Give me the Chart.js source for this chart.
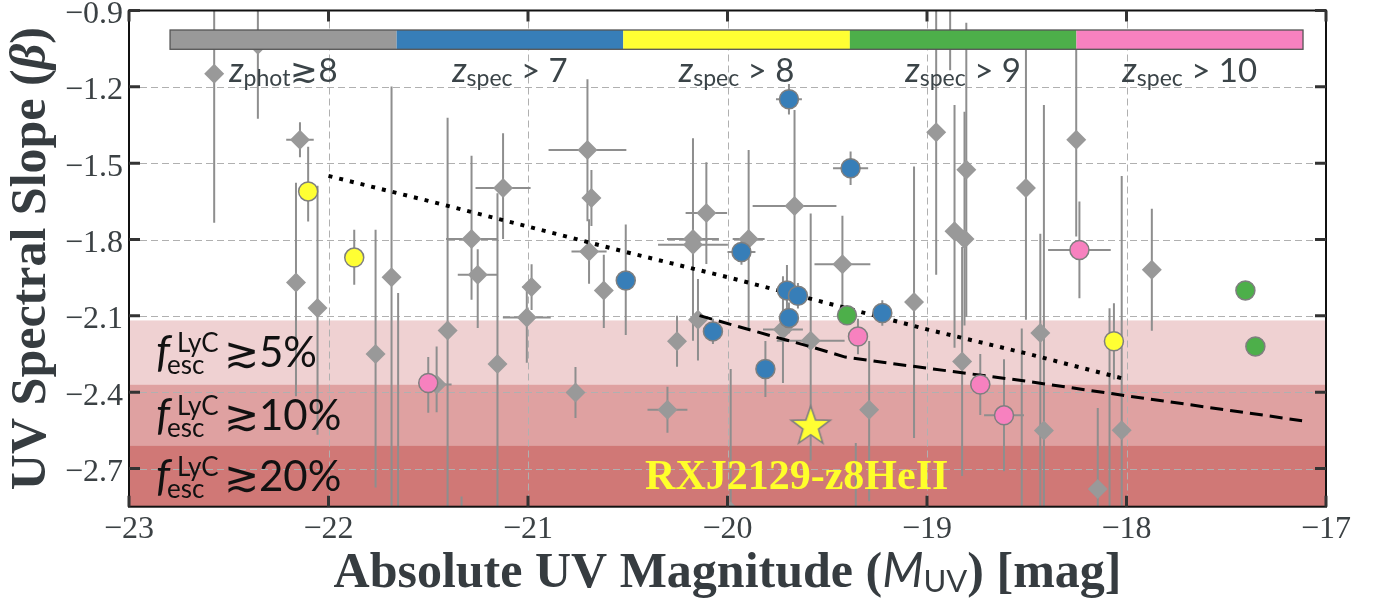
<!DOCTYPE html>
<html><head><meta charset="utf-8">
<script src="https://cdn.jsdelivr.net/npm/chart.js@4.4.0/dist/chart.umd.min.js"></script>
<style>html,body{margin:0;padding:0;background:#fff;}#wrap{width:1377px;height:605px;position:relative;}</style>
</head><body><div id="wrap"><canvas id="c"></canvas></div>
<script>
// ---------------- data ----------------
const xTicks = [-23, -22, -21, -20, -19, -18, -17];
const yTicks = [-0.9, -1.2, -1.5, -1.8, -2.1, -2.4, -2.7];
const xRange = [-23, -17];
const yRange = [-2.85, -0.9];

// photometric candidates (grey diamonds)
const photX = [-22.573,-22.354,-22.143,-22.163,-22.055,-21.764,-21.684,-21.651,-21.403,-21.283,-21.252,-21.125,-21.153,-21.333,-21.458,-21.006,-20.982,-20.702,-20.682,-20.694,-20.62,-20.762,-20.301,-20.253,-20.148,-20.173,-20.173,-20.106,-19.984,-19.894,-19.664,-19.722,-19.583,-19.424,-19.29,-19.357,-19.065,-18.954,-18.884,-18.862,-18.812,-18.803,-18.824,-18.504,-18.432,-18.414,-18.252,-18.144,-18.085,-18.024,-18.525,-17.873];
const photY = [-1.149,-1.035,-1.408,-1.969,-2.069,-2.250,-1.948,-3.05,-2.158,-1.798,-1.938,-1.598,-2.289,-3.05,-2.37,-2.106,-1.987,-1.448,-1.637,-1.847,-2.0,-2.401,-2.469,-2.2,-2.115,-1.798,-1.821,-1.696,-2.869,-1.798,-1.668,-2.154,-2.198,-1.897,-2.469,-3.0,-2.046,-1.378,-0.75,-1.768,-1.798,-1.526,-2.279,-1.598,-2.167,-2.551,-1.408,-2.78,-3.1,-2.55,-2.95,-1.919];
const photXerr = [0,0,0.069,0,0,0,0,0,0,0.128,0.1,0.138,0,0,0.075,0.12,0.045,0.195,0,0.088,0,0,0.1,0,0,0.13,0.175,0.104,0,0.08,0.21,0.1,0.17,0.14,0,0,0,0,0,0,0,0,0,0,0,0,0,0,0,0,0,0];
const photYlo = [0.585,0.29,0.069,0.447,0.498,0.525,0.95,1.04,0.84,0.239,0.21,0.2,0.67,0.24,0.109,0.178,0.09,0.28,0.11,0.127,0.148,0.1,0.09,0.1,0.16,0.4,0.1,0.2,0.56,0.35,0.317,0.21,0.47,0.19,0.36,0.4,0.534,0.56,0.385,0.457,0.34,0.578,0.45,0.517,0.7,1.28,0.38,0.318,1.03,1.0,0.8,0.24];
const photYhi = [0.585,0.29,0.069,0.392,0.48,0.488,0.749,1.04,0.837,0.327,0.1,0.216,0.671,0.24,0.15,0.136,0.09,0.278,0.11,0.127,0.14,0.1,0.09,0.1,0.16,0.396,0.1,0.2,0.56,0.35,0.377,0.21,0.5,0.19,0.27,0.4,0.533,0.56,0.385,0.497,0.5,0.578,0.45,0.543,0.39,1.28,0.353,0.318,1.03,1.0,0.8,0.24];

// z_spec > 7 (blue)
const s7X = [-20.51,-19.93,-19.692,-19.383,-19.702,-19.647,-19.692,-19.81,-19.224,-20.073];
const s7Y = [-1.961,-1.849,-1.249,-1.52,-2.0,-2.021,-2.108,-2.309,-2.089,-2.161];
const s7Xerr = [0,0.07,0.065,0.088,0,0,0,0,0,0];
const s7Ylo = [0.214,0.05,0.06,0.066,0.1,0.05,0.06,0.11,0.05,0.05];
const s7Yhi = [0.22,0.05,0.06,0.066,0.1,0.05,0.06,0.11,0.05,0.05];

// z_spec > 8 (yellow)
const s8X = [-22.102,-21.871,-18.063];
const s8Y = [-1.611,-1.871,-2.2];
const s8Xerr = [0,0,0];
const s8Ylo = [0.118,0.107,0.15];
const s8Yhi = [0.176,0.109,0.15];

// z_spec > 9 (green)
const s9X = [-19.401,-17.404,-17.354];
const s9Y = [-2.098,-2.0,-2.22];
const s9Xerr = [0,0,0];
const s9Ylo = [0.03,0,0];
const s9Yhi = [0.03,0,0];

// z_spec > 10 (pink)
const s10X = [-21.5,-19.346,-18.236,-18.733,-18.614];
const s10Y = [-2.364,-2.181,-1.841,-2.37,-2.491];
const s10Xerr = [0.03,0,0.157,0.05,0.1];
const s10Ylo = [0.117,0.07,0.19,0.12,0.22];
const s10Yhi = [0.102,0.07,0.19,0.12,0.22];

// RXJ2129-z8HeII
const starX = [-19.583];
const starY = [-2.535];
const starName = 'RXJ2129-z8HeII';

// model relations
const dottedX = [-22,-21.5,-21,-20.5,-20,-19.5,-19,-18.5,-18];
const dottedY = [-1.55,-1.648,-1.749,-1.851,-1.948,-2.05,-2.153,-2.248,-2.35];
const dashedX = [-20.14,-19.77,-19.58,-19.41,-19.15,-18.5,-18.0,-17.12];
const dashedY = [-2.099,-2.181,-2.222,-2.262,-2.29,-2.357,-2.414,-2.512];

// f_esc bands
const bandTop = [-2.118, -2.370, -2.609];
const bandBottom = [-2.370, -2.609, -2.85];
const bandPct = ['5%', '10%', '20%'];

// colour bar
const cbSub = ['phot','spec','spec','spec','spec'];
const cbRel = ['\u22738',' > 7',' > 8',' > 9',' > 10'];

// ---------------- styles ----------------
const C_GREY='#999999', C_BLUE='#377eb8', C_YEL='#ffff33', C_GRN='#4daf4a', C_PINK='#f781bf';
const cbColors=[C_GREY,C_BLUE,C_YEL,C_GRN,C_PINK];
const bandColors=['#efd1d2','#dfa1a1','#d07876'];
const SERIF='"Liberation Serif","Times New Roman",serif';
const SANS='Lato,"Open Sans",sans-serif';

function pts(xs,ys,xe,lo,hi){return xs.map((x,i)=>({x:x,y:ys[i],xerr:xe?xe[i]:0,ylo:lo?lo[i]:0,yhi:hi?hi[i]:0}));}
function line(xs,ys){return xs.map((x,i)=>({x:x,y:ys[i]}));}

function starCanvas(R){
  const s=Math.ceil(2*R+6);const c=document.createElement('canvas');c.width=s;c.height=s;
  const g=c.getContext('2d');const cx=s/2,cy=s/2;g.beginPath();
  for(let k=0;k<10;k++){const r=(k%2)?R*0.40:R;const a=-Math.PI/2+k*Math.PI/5;g.lineTo(cx+r*Math.cos(a),cy+r*Math.sin(a));}
  g.closePath();g.fillStyle=C_YEL;g.fill();g.lineWidth=1.6;g.strokeStyle='#808080';g.stroke();return c;
}

const errSets=[0,1,2,3,4];

function rich(ctx,segs,x,y,align){
  let w=0;segs.forEach(s=>{ctx.font=s.f;s.w=ctx.measureText(s.t).width;w+=s.w;});
  let cx=align==='center'?x-w/2:x;
  segs.forEach(s=>{ctx.font=s.f;ctx.fillText(s.t,cx,y+(s.dy||0));cx+=s.w;});
}

const decor={
  id:'decor',
  beforeDatasetsDraw(chart){
    const {ctx,chartArea:a,scales:{x,y}}=chart;
    ctx.save();
    for(let i=0;i<bandTop.length;i++){
      const y0=y.getPixelForValue(bandTop[i]),y1=y.getPixelForValue(bandBottom[i]);
      ctx.fillStyle=bandColors[i];ctx.fillRect(a.left,y0,a.right-a.left,y1-y0);
    }
    ctx.strokeStyle='#b0b0b0';ctx.lineWidth=1;ctx.setLineDash([7,4]);
    xTicks.forEach(v=>{if(v<=xRange[0]||v>=xRange[1])return;const p=Math.round(x.getPixelForValue(v))+0.5;ctx.beginPath();ctx.moveTo(p,a.top);ctx.lineTo(p,a.bottom);ctx.stroke();});
    yTicks.forEach(v=>{if(v<=yRange[0]||v>=yRange[1])return;const p=Math.round(y.getPixelForValue(v))+0.5;ctx.beginPath();ctx.moveTo(a.left,p);ctx.lineTo(a.right,p);ctx.stroke();});
    ctx.setLineDash([]);
    ctx.beginPath();ctx.rect(a.left,a.top,a.right-a.left,a.bottom-a.top);ctx.clip();
    ctx.strokeStyle='#8e8e8e';ctx.lineWidth=2;
    errSets.forEach(di=>{
      chart.data.datasets[di].data.forEach(p=>{
        const px=x.getPixelForValue(p.x),py=y.getPixelForValue(p.y);
        if(p.ylo||p.yhi){ctx.beginPath();ctx.moveTo(px,y.getPixelForValue(p.y+p.yhi));ctx.lineTo(px,y.getPixelForValue(p.y-p.ylo));ctx.stroke();}
        if(p.xerr){ctx.beginPath();ctx.moveTo(x.getPixelForValue(p.x-p.xerr),py);ctx.lineTo(x.getPixelForValue(p.x+p.xerr),py);ctx.stroke();}
      });
    });
    ctx.restore();
  },
  afterDatasetsDraw(chart){
    const {ctx,chartArea:a,scales:{x,y}}=chart;
    const W=a.right-a.left;
    ctx.save();
    const cl=a.left+0.0343*W,cr=a.left+0.9808*W,ct=a.top+19.5,cb=a.top+38.8;
    const sw=(cr-cl)/cbColors.length;
    cbColors.forEach((c,i)=>{ctx.fillStyle=c;ctx.fillRect(cl+i*sw,ct,sw,cb-ct);});
    ctx.strokeStyle='#555';ctx.lineWidth=1.3;ctx.strokeRect(cl,ct,cr-cl,cb-ct);
    ctx.fillStyle='#3b4448';ctx.textAlign='left';ctx.textBaseline='alphabetic';
    cbSub.forEach((s,i)=>{
      rich(ctx,[{t:'z',f:'italic 34px '+SANS},{t:s,f:'23px '+SANS,dy:4},{t:cbRel[i],f:'33px '+SANS}],cl+(i+0.5)*sw,a.top+71,'center');
    });
    ctx.fillStyle='#111';
    bandTop.forEach((t,i)=>{
      const base=(y.getPixelForValue(t)+y.getPixelForValue(bandBottom[i]))/2+15;
      const x0=a.left+27;
      ctx.font='italic 44px '+SANS;ctx.fillText('f',x0,base);
      ctx.font='26px '+SANS;ctx.fillText('LyC',x0+21,base-15);ctx.fillText('esc',x0+11,base+7);
      ctx.font='42px '+SANS;ctx.fillText('\u2273'+bandPct[i],x0+68,base);
    });
    ctx.fillStyle='#ffff2a';ctx.font='bold 42px '+SERIF;ctx.textAlign='center';
    ctx.fillText(starName,x.getPixelForValue(starX[0])-14,a.bottom-18);
    ctx.restore();
  },
  afterDraw(chart){
    const {ctx,chartArea:a,scales:{x,y}}=chart;
    ctx.save();
    ctx.strokeStyle='#111';ctx.lineWidth=2;ctx.strokeRect(a.left,a.top,a.right-a.left,a.bottom-a.top);
    ctx.strokeStyle='#333';ctx.lineWidth=3;
    xTicks.forEach(v=>{const p=x.getPixelForValue(v);ctx.beginPath();ctx.moveTo(p,a.bottom);ctx.lineTo(p,a.bottom-11);ctx.moveTo(p,a.top);ctx.lineTo(p,a.top+11);ctx.stroke();});
    yTicks.forEach(v=>{const p=y.getPixelForValue(v);ctx.beginPath();ctx.moveTo(a.left,p);ctx.lineTo(a.left+11,p);ctx.moveTo(a.right,p);ctx.lineTo(a.right-11,p);ctx.stroke();});
    ctx.fillStyle='#3b4144';ctx.font='32px '+SERIF;ctx.textBaseline='alphabetic';
    ctx.textAlign='right';
    yTicks.forEach(v=>{ctx.fillText(v.toFixed(1).replace('-','\u2212'),a.left-6,y.getPixelForValue(v)+12.5);});
    ctx.textAlign='center';
    xTicks.forEach(v=>{ctx.fillText(String(v).replace('-','\u2212'),x.getPixelForValue(v),a.bottom+31);});
    ctx.fillStyle='#363c40';ctx.textAlign='left';
    rich(ctx,[{t:'Absolute UV Magnitude (',f:'bold 50px '+SERIF},{t:'M',f:'italic 48px '+SANS},{t:'UV',f:'31px '+SANS,dy:5},{t:') [mag]',f:'bold 50px '+SERIF}],(a.left+a.right)/2,587,'center');
    ctx.translate(45,(a.top+a.bottom)/2);ctx.rotate(-Math.PI/2);
    rich(ctx,[{t:'UV Spectral Slope (',f:'bold 50px '+SERIF},{t:'\u03b2',f:'bold italic 50px '+SERIF},{t:')',f:'bold 50px '+SERIF}],0,0,'center');
    ctx.restore();
  }
};

new Chart(document.getElementById('c'),{
  type:'scatter',
  data:{datasets:[
    {label:'phot',data:pts(photX,photY,photXerr,photYlo,photYhi),pointStyle:'rectRot',pointRadius:10,backgroundColor:C_GREY,borderColor:C_GREY,borderWidth:0,clip:0,order:7},
    {label:'spec7',data:pts(s7X,s7Y,s7Xerr,s7Ylo,s7Yhi),pointStyle:'circle',pointRadius:9.5,backgroundColor:C_BLUE,borderColor:'#7f7f7f',borderWidth:1.5,clip:0,order:4},
    {label:'spec8',data:pts(s8X,s8Y,s8Xerr,s8Ylo,s8Yhi),pointStyle:'circle',pointRadius:9.5,backgroundColor:C_YEL,borderColor:'#7f7f7f',borderWidth:1.5,clip:0,order:3},
    {label:'spec9',data:pts(s9X,s9Y,s9Xerr,s9Ylo,s9Yhi),pointStyle:'circle',pointRadius:9.5,backgroundColor:C_GRN,borderColor:'#7f7f7f',borderWidth:1.5,clip:0,order:2},
    {label:'spec10',data:pts(s10X,s10Y,s10Xerr,s10Ylo,s10Yhi),pointStyle:'circle',pointRadius:9.5,backgroundColor:C_PINK,borderColor:'#7f7f7f',borderWidth:1.5,clip:0,order:1},
    {label:'star',data:line(starX,starY),pointStyle:starCanvas(20.5),pointRadius:20,clip:0,order:0},
    {type:'line',label:'dotted',data:line(dottedX,dottedY),borderColor:'#000',borderWidth:4,borderDash:[4,7],borderCapStyle:'butt',pointRadius:0,fill:false,tension:0,clip:0,order:5},
    {type:'line',label:'dashed',data:line(dashedX,dashedY),borderColor:'#000',borderWidth:3,borderDash:[13,7],borderCapStyle:'butt',pointRadius:0,fill:false,tension:0,clip:0,order:6}
  ]},
  options:{
    responsive:true,maintainAspectRatio:false,animation:false,
    layout:{autoPadding:false,padding:{left:0,right:51,top:10.5,bottom:0}},
    plugins:{legend:{display:false},tooltip:{enabled:false}},
    events:[],
    scales:{
      x:{type:'linear',min:xRange[0],max:xRange[1],grid:{display:false},border:{display:false},ticks:{display:false},afterFit(s){s.height=605-506.7;}},
      y:{type:'linear',min:yRange[0],max:yRange[1],grid:{display:false},border:{display:false},ticks:{display:false},afterFit(s){s.width=129;}}
    }
  },
  plugins:[decor]
});
</script></body></html>
